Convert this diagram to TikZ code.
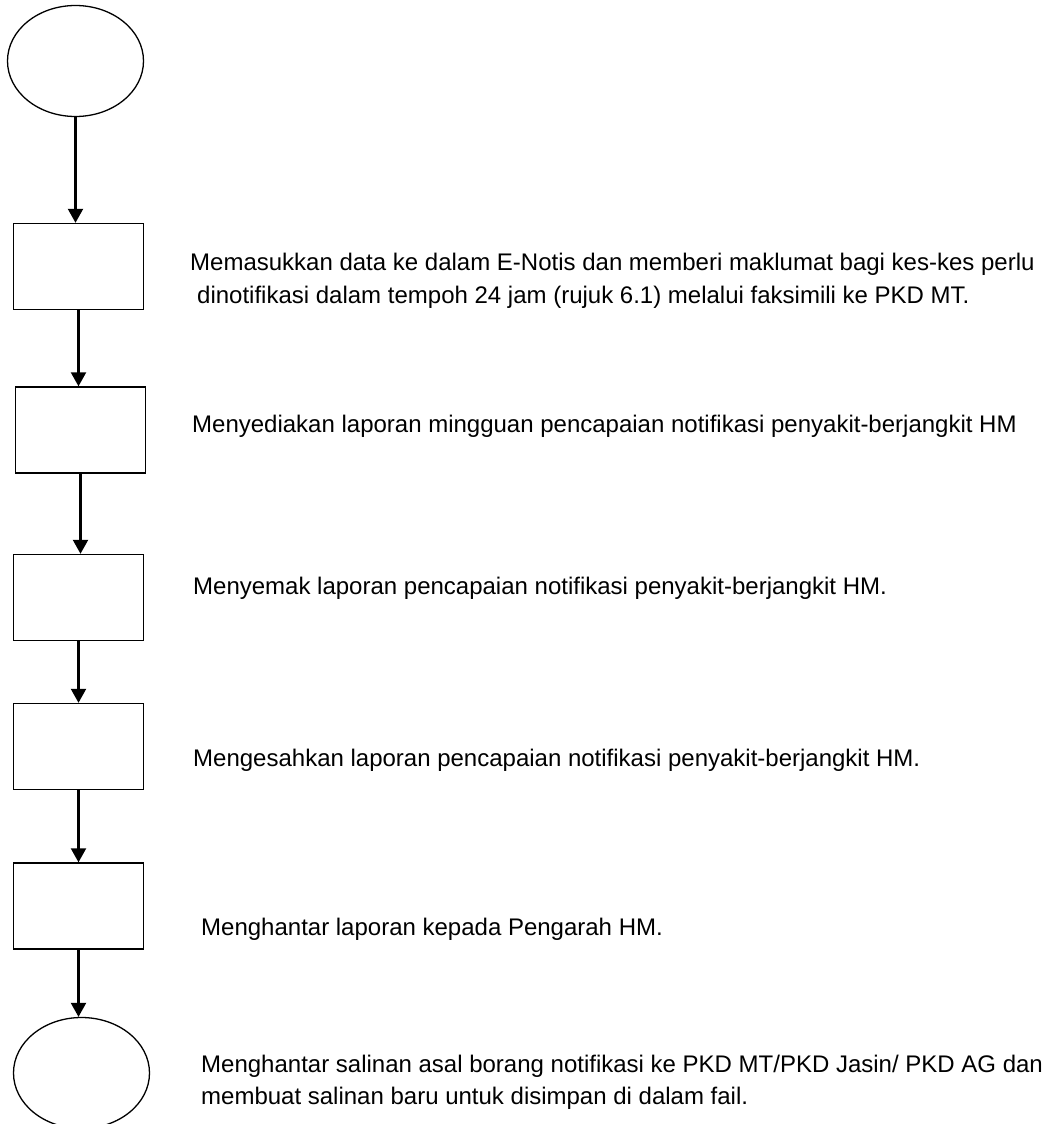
\documentclass[tikz,border=0pt]{standalone}
\usepackage{fontspec}
\setmainfont{Liberation Sans}
\usetikzlibrary{arrows.meta,shapes.geometric}
\begin{document}
\begin{tikzpicture}[x=1pt, y=-1pt,
    box/.style={draw, line width=1.4pt, minimum width=130pt, minimum height=86pt, inner sep=0pt},
    oval/.style={draw, ellipse, line width=1.3pt, minimum width=136pt, minimum height=111pt, inner sep=0pt},
    note/.style={anchor=base west, inner sep=0pt, align=left, font=\fontsize{24pt}{33pt}\selectfont},
    flow/.style={line width=2.2pt, -{Triangle[length=14pt, width=15pt]}}]
    \useasboundingbox (0,0) rectangle (1048,1124);

    \node[oval] (s) at (75.5,61) {};
    \node[box] (b1) at (78.5,266.5) {};
    \node[box] (b2) at (80.5,430) {};
    \node[box] (b3) at (78.5,597.5) {};
    \node[box] (b4) at (78.5,746.5) {};
    \node[box] (b5) at (78.5,906) {};
    \node[oval] (e) at (81.5,1073) {};

    \draw[flow] (s.south) -- (s.south |- b1.north);
    \draw[flow] (b1.south) -- (b1.south |- b2.north);
    \draw[flow] (b2.south) -- (b2.south |- b3.north);
    \draw[flow] (b3.south) -- (b3.south |- b4.north);
    \draw[flow] (b4.south) -- (b4.south |- b5.north);
    \draw[flow] (b5.south) -- (b5.south |- e.north);

    \node[note] (t1) at (190,303) {Memasukkan data ke dalam E-Notis dan memberi maklumat bagi kes-kes perlu\\\hspace*{7pt}dinotifikasi dalam tempoh 24 jam (rujuk 6.1) melalui faksimili ke PKD MT.};
    \node[note] (t2) at (192,432) {Menyediakan laporan mingguan pencapaian notifikasi penyakit-berjangkit HM};
    \node[note] (t3) at (193,594) {Menyemak laporan pencapaian notifikasi penyakit-berjangkit HM.};
    \node[note] (t4) at (193,766) {Mengesahkan laporan pencapaian notifikasi penyakit-berjangkit HM.};
    \node[note] (t5) at (201,935) {Menghantar laporan kepada Pengarah HM.};
    \node[note, font=\fontsize{24pt}{32pt}\selectfont] (t6) at (201,1104) {Menghantar salinan asal borang notifikasi ke PKD MT/PKD Jasin/ PKD AG dan\\membuat salinan baru untuk disimpan di dalam fail.};
\end{tikzpicture}
\end{document}
